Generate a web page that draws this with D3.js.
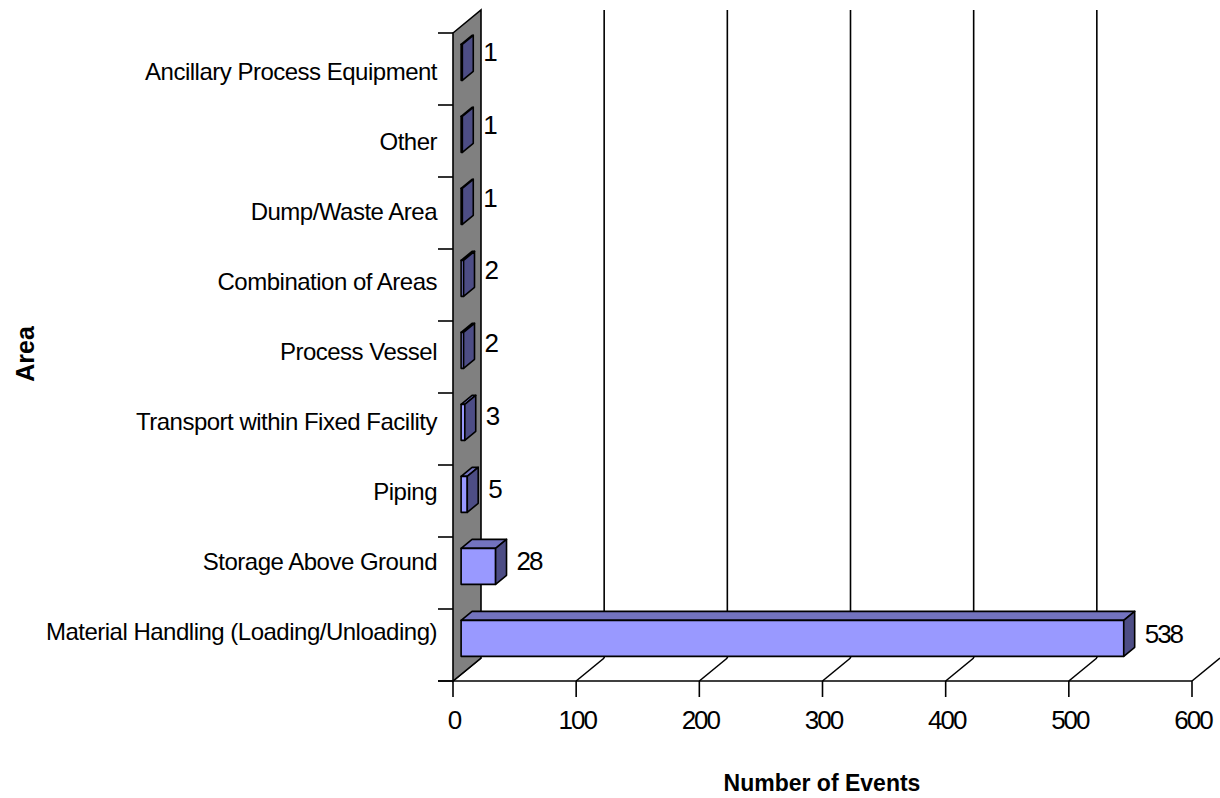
<!DOCTYPE html>
<html>
<head>
<meta charset="utf-8">
<script src="https://cdn.jsdelivr.net/npm/d3@7"></script>
<style>
  body { margin: 0; background: #fff; }
  text { font-family: "Liberation Sans", Arial, sans-serif; fill: #000; }
</style>
</head>
<body>
<svg id="chart" width="1220" height="798"></svg>
<script>
// data, top to bottom as shown
var categories = [
  "Ancillary Process Equipment",
  "Other",
  "Dump/Waste Area",
  "Combination of Areas",
  "Process Vessel",
  "Transport within Fixed Facility",
  "Piping",
  "Storage Above Ground",
  "Material Handling (Loading/Unloading)"
];
var events = [1, 1, 1, 2, 2, 3, 5, 28, 538];
var xTicks = [0, 100, 200, 300, 400, 500, 600];

var svg = d3.select("svg#chart");

var x = d3.scaleLinear().domain([0, 600]).range([453, 1192]);
var y = d3.scaleBand().domain(categories).range([33, 681]);
// text baselines sit a bit off the band centres in the original
var yLabel = d3.scalePoint().domain(categories).range([80, 640]);
var yValue = d3.scalePoint().domain(categories).range([61, 643]);

// depth of the 3d box
var DX = 28, DY = -23;
var f0 = 0.29, f1 = 0.68;
var barH = y.bandwidth() * 0.5;

// back wall gridlines
svg.append("g").selectAll("line.grid")
  .data(xTicks.slice(1, 6))
  .enter().append("line")
  .attr("x1", function(d) { return x(d) + DX; })
  .attr("x2", function(d) { return x(d) + DX; })
  .attr("y1", 33 + DY)
  .attr("y2", 681 + DY)
  .attr("stroke", "#000")
  .attr("stroke-width", 1.6);

// floor diagonals
svg.append("g").selectAll("line.floor")
  .data(xTicks)
  .enter().append("line")
  .attr("x1", function(d) { return x(d); })
  .attr("x2", function(d) { return x(d) + DX; })
  .attr("y1", 681)
  .attr("y2", 681 + DY)
  .attr("stroke", "#000")
  .attr("stroke-width", 1.6);

// side wall
svg.append("polygon")
  .attr("points", [[x(0), 33], [x(0) + DX, 33 + DY], [x(0) + DX, 681 + DY], [x(0), 681]].join(" "))
  .attr("fill", "#808080")
  .attr("stroke", "#000")
  .attr("stroke-width", 1.6);

// front floor edge + x ticks
svg.append("line")
  .attr("x1", 438).attr("x2", x(600))
  .attr("y1", 681).attr("y2", 681)
  .attr("stroke", "#000").attr("stroke-width", 1.6);

svg.append("g").selectAll("line.xt")
  .data(xTicks)
  .enter().append("line")
  .attr("x1", function(d) { return x(d); })
  .attr("x2", function(d) { return x(d); })
  .attr("y1", 681).attr("y2", 697)
  .attr("stroke", "#000").attr("stroke-width", 1.6);

svg.append("g").selectAll("text.xt")
  .data(xTicks)
  .enter().append("text")
  .attr("x", function(d) { return x(d) + 1; })
  .attr("y", 729)
  .attr("text-anchor", "middle")
  .style("font-size", "26px").style("letter-spacing", "-2px")
  .text(function(d) { return d; });

// category ticks
var bounds = categories.map(function(c) { return y(c); }).concat([681]);
svg.append("g").selectAll("line.yt")
  .data(bounds)
  .enter().append("line")
  .attr("x1", 438).attr("x2", x(0))
  .attr("y1", function(d) { return d; })
  .attr("y2", function(d) { return d; })
  .attr("stroke", "#000").attr("stroke-width", 1.6);

svg.append("g").selectAll("text.yl")
  .data(categories)
  .enter().append("text")
  .attr("x", 437)
  .attr("y", function(c) { return yLabel(c); })
  .attr("text-anchor", "end")
  .style("font-size", "24px").style("letter-spacing", "-0.5px")
  .text(function(c) { return c; });

// bars
var bars = svg.append("g").selectAll("g.bar")
  .data(categories.map(function(c, i) { return { name: c, v: events[i] }; }))
  .enter().append("g").attr("class", "bar");

function geom(d) {
  var x0 = x(0) + f0 * DX, x1 = x(d.v) + f0 * DX;
  var yc = y(d.name) + y.bandwidth() / 2;
  var y0 = yc - barH / 2 + f0 * DY, y1 = yc + barH / 2 + f0 * DY;
  var ddx = (f1 - f0) * DX, ddy = (f1 - f0) * DY;
  return { x0: x0, x1: x1, y0: y0, y1: y1, ddx: ddx, ddy: ddy };
}

bars.append("polygon")
  .attr("points", function(d) {
    var g = geom(d);
    return [[g.x0, g.y0], [g.x1, g.y0], [g.x1 + g.ddx, g.y0 + g.ddy], [g.x0 + g.ddx, g.y0 + g.ddy]].join(" ");
  })
  .attr("fill", "#7373BF").attr("stroke", "#000").attr("stroke-width", 1.6)
  .attr("stroke-linejoin", "round");

bars.append("polygon")
  .attr("points", function(d) {
    var g = geom(d);
    return [[g.x0, g.y0], [g.x1, g.y0], [g.x1, g.y1], [g.x0, g.y1]].join(" ");
  })
  .attr("fill", "#9999FF").attr("stroke", "#000").attr("stroke-width", 1.6)
  .attr("stroke-linejoin", "round");

bars.append("polygon")
  .attr("points", function(d) {
    var g = geom(d);
    return [[g.x1, g.y0], [g.x1 + g.ddx, g.y0 + g.ddy], [g.x1 + g.ddx, g.y1 + g.ddy], [g.x1, g.y1]].join(" ");
  })
  .attr("fill", "#4D4D85").attr("stroke", "#000").attr("stroke-width", 1.6)
  .attr("stroke-linejoin", "round");

bars.append("text")
  .attr("x", function(d) { var g = geom(d); return g.x1 + g.ddx + 10; })
  .attr("y", function(d) { return yValue(d.name); })
  .style("font-size", "26px").style("letter-spacing", "-2px")
  .text(function(d) { return d.v; });

// axis titles
svg.append("text")
  .attr("transform", "translate(34,354) rotate(-90)")
  .attr("text-anchor", "middle")
  .style("font-size", "25px").style("font-weight", "bold")
  .text("Area");

svg.append("text")
  .attr("x", 822).attr("y", 791)
  .attr("text-anchor", "middle")
  .style("font-size", "23px").style("font-weight", "bold")
  .text("Number of Events");
</script>
</body>
</html>
